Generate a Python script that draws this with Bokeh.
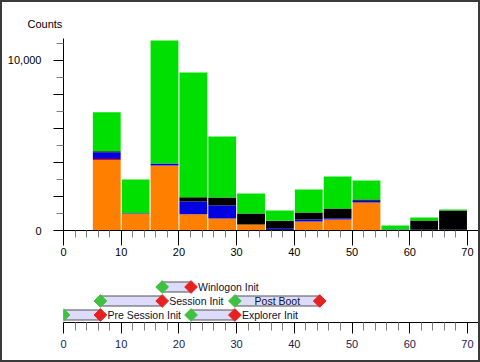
import numpy as np
from bokeh.plotting import figure
from bokeh.models import Range1d, FixedTicker, ColumnDataSource, Title
from bokeh.layouts import column
from bokeh.core.properties import value
from bokeh.embed import file_html
from bokeh.resources import INLINE

# ---- histogram data (5-second bins) ----
bin_starts = [5, 10, 15, 20, 25, 30, 35, 40, 45, 50, 55, 60, 65]
orange = [4150, 950, 3820, 960, 705, 350, 30, 530, 650, 1650, 0, 0, 0]
red = [60, 30, 0, 0, 0, 0, 0, 0, 0, 0, 0, 0, 0]
blue = [400, 40, 120, 745, 765, 0, 80, 120, 75, 95, 60, 50, 50]
black = [50, 0, 0, 255, 470, 650, 470, 410, 570, 75, 0, 540, 1130]
green = [2300, 1980, 7240, 7330, 3590, 1176, 590, 1350, 1880, 1120, 234, 175, 55]
bin_width = 5

# ---- boot phases ----
phase_names = ["Pre Session Init", "Session Init", "Winlogon Init", "Explorer Init", "Post Boot"]
phase_start = [0.0, 6.4, 17.1, 22.1, 29.7]
phase_end = [6.4, 17.1, 22.1, 29.7, 44.4]
phase_row = [0.75, 2.15, 3.55, 0.75, 2.15]
label_inside = [False, False, False, False, True]

y_major = [0, 2000, 4000, 6000, 8000, 10000]
y_minor = [1000, 3000, 5000, 7000, 9000, 11000]
y_labels = {0: "0", 10000: "10,000"}
x_major = list(range(0, 71, 10))
x_minor = [i for i in range(0, 74, 2) if i % 10]

FONT = "Liberation Sans"
FW = 415
xr = Range1d(0, FW / 5.771)

p = figure(frame_width=FW, frame_height=192, min_border_left=61, min_border_right=0,
           min_border_top=36, min_border_bottom=40, x_range=xr,
           y_range=Range1d(0, 11294), output_backend="svg", toolbar_location=None,
           title=None)
p.outline_line_color = None
p.grid.visible = False
p.background_fill_color = "white"

p.add_layout(Title(text="Counts", align="left", offset=-36, standoff=17,
                   text_font=FONT, text_font_size="11px", text_font_style="normal",
                   text_color="black"), "above")

src = ColumnDataSource(dict(
    x=[s + bin_width / 2 for s in bin_starts],
    orange=orange, red=red, blue=blue, black=black, green=green))
p.vbar_stack(["orange", "red", "blue", "black", "green"], x="x", width=bin_width - 0.18,
             source=src, color=["#FF8000", "#FF0000", "#0000E0", "#000000", "#00E000"],
             line_width=0)

ya = p.yaxis[0]
ya.ticker = FixedTicker(ticks=y_major, minor_ticks=y_minor)
ya.major_label_overrides = {t: y_labels.get(t, "") for t in y_major}
ya.axis_line_color = "black"
ya.major_tick_line_color = "black"
ya.major_tick_out = 10
ya.major_tick_in = 0
ya.minor_tick_line_color = "#808080"
ya.minor_tick_out = 7
ya.minor_tick_in = 0
ya.major_label_standoff = 12
ya.major_label_text_font = FONT
ya.major_label_text_font_size = "11px"
ya.major_label_text_color = "black"

xa = p.xaxis[0]
xa.ticker = FixedTicker(ticks=x_major, minor_ticks=x_minor)
xa.axis_line_color = "black"
xa.major_tick_line_color = "black"
xa.major_tick_out = 15
xa.major_tick_in = 0
xa.minor_tick_line_color = "#808080"
xa.minor_tick_out = 7
xa.minor_tick_in = 0
xa.major_label_standoff = 2
xa.major_label_text_font = FONT
xa.major_label_text_font_size = "11px"
xa.major_label_text_color = "black"

# ---- timeline ----
q = figure(frame_width=FW, frame_height=52, min_border_left=61, min_border_right=0,
           min_border_top=0, min_border_bottom=38, x_range=xr, y_range=Range1d(0, 5.2),
           y_axis_type=None, output_backend="svg", toolbar_location=None, title=None)
q.outline_line_color = None
q.grid.visible = False

psrc = ColumnDataSource(dict(start=phase_start, end=phase_end, row=phase_row))
q.hbar(y="row", left="start", right="end", height=1.0, source=psrc,
       fill_color="#DCDCFA", line_color="#505050", line_width=1)
q.scatter(x="start", y="row", source=psrc, marker="square", angle=np.pi / 4, size=9,
          fill_color="#40C040", line_color="#40C040")
q.scatter(x="end", y="row", source=psrc, marker="square", angle=np.pi / 4, size=9,
          fill_color="#E82020", line_color="#E82020")

out_idx = [i for i, f in enumerate(label_inside) if not f]
in_idx = [i for i, f in enumerate(label_inside) if f]
q.text(x=[phase_end[i] for i in out_idx], y=[phase_row[i] for i in out_idx],
       text=[phase_names[i] for i in out_idx], x_offset=7, text_align="left",
       text_baseline="middle", text_font=value(FONT), text_font_size="10.5px",
       text_color="#101030")
q.text(x=[(phase_start[i] + phase_end[i]) / 2 for i in in_idx],
       y=[phase_row[i] for i in in_idx], text=[phase_names[i] for i in in_idx],
       text_align="center", text_baseline="middle", text_font=value(FONT),
       text_font_size="10.5px", text_color="#101030")

qa = q.xaxis[0]
qa.ticker = FixedTicker(ticks=x_major, minor_ticks=x_minor)
qa.axis_line_color = "black"
qa.major_tick_line_color = "black"
qa.major_tick_out = 11
qa.major_tick_in = 0
qa.minor_tick_line_color = "#808080"
qa.minor_tick_out = 8
qa.minor_tick_in = 0
qa.major_label_standoff = 6
qa.major_label_text_font = FONT
qa.major_label_text_font_size = "11px"
qa.major_label_text_color = "#1A1A50"

layout = column(p, q, spacing=0, styles={"border": "2px solid #3A3A3A"})
open("out.html", "w").write(file_html(layout, INLINE))
